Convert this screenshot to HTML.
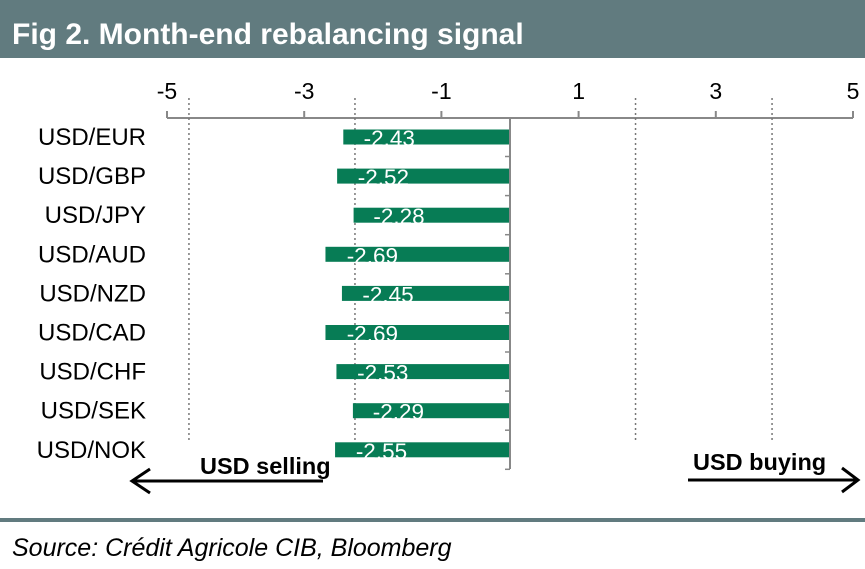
<!DOCTYPE html>
<html><head><meta charset="utf-8"><style>
body{margin:0;width:865px;height:564px;background:#fff;font-family:"Liberation Sans",Arial,sans-serif;overflow:hidden}
</style></head><body>
<svg width="865" height="564" xmlns="http://www.w3.org/2000/svg" id="chart">
<rect x="0" y="0" width="865" height="58" fill="#617b7f"/>
<text x="12" y="44" font-size="30" font-weight="bold" fill="#fff" font-family="Liberation Sans, sans-serif">Fig 2. Month-end rebalancing signal</text>
<rect x="0" y="518" width="865" height="4" fill="#617b7f"/>
<text x="12" y="556" font-size="25" font-style="italic" fill="#000" font-family="Liberation Sans, sans-serif">Source: Crédit Agricole CIB, Bloomberg</text>
<g id="plot"></g>
<text x="200" y="474" font-size="23.5" font-weight="bold" font-family="Liberation Sans, sans-serif">USD selling</text>
<text x="693" y="470" font-size="23.5" font-weight="bold" font-family="Liberation Sans, sans-serif">USD buying</text>
<g stroke="#000" stroke-width="3" fill="none"><line x1="132" y1="481" x2="323" y2="481"/><polyline points="150,469 132,481 150,493"/></g>
<g stroke="#000" stroke-width="3" fill="none"><line x1="688" y1="480" x2="858" y2="480"/><polyline points="842,468 858,480 842,492"/></g>
</svg>
<script>
const categories=["USD/EUR","USD/GBP","USD/JPY","USD/AUD","USD/NZD","USD/CAD","USD/CHF","USD/SEK","USD/NOK"];
const values=[-2.43,-2.52,-2.28,-2.69,-2.45,-2.69,-2.53,-2.29,-2.55];
const tickValues=[-5,-3,-1,1,3,5];
const thresholds=[-4.68,-2.26,1.83,3.82];
const NS="http://www.w3.org/2000/svg";
const g=document.getElementById('plot');
const x=v=>510+v*68.6;
const y=i=>137+i*39.1;
function el(t,a){const e=document.createElementNS(NS,t);for(const k in a)e.setAttribute(k,a[k]);g.appendChild(e);return e;}
let ax=el('line',{x1:x(-5),y1:118,x2:x(5),y2:118,stroke:'#888','stroke-width':2});


tickValues.forEach(v=>{
 let t=el('line',{x1:x(v),y1:111,x2:x(v),y2:118,stroke:'#888','stroke-width':2});
 
 
 let l=el('text',{x:x(v),y:99,'font-size':23,'text-anchor':'middle','font-family':'Liberation Sans, sans-serif'});
 l.textContent=String(v);
 
 
});
thresholds.forEach(v=>{
 let d=el('line',{x1:x(v),y1:98,x2:x(v),y2:440,stroke:'#777','stroke-width':1.5,'stroke-dasharray':'2,3'});
 
 
});
categories.forEach((c,i)=>{
 let v=values[i];
 let b=el('rect',{x:x(v),y:y(i)-7.5,width:x(0)-x(v),height:15,fill:'#077c55'});
 
 
 let vl=el('text',{x:x(v)+(x(0)-x(v))*0.05+12,y:y(i)+9,'font-size':22.5,fill:'#fff','font-family':'Liberation Sans, sans-serif'});
 vl.textContent=v.toFixed(2);
 
 
 let cl=el('text',{x:146,y:y(i)+8,'font-size':24,'text-anchor':'end','font-family':'Liberation Sans, sans-serif'});
 cl.textContent=c;
 
 
 let tk=el('line',{x1:x(0)-5,y1:y(i)+19.5,x2:x(0),y2:y(i)+19.5,stroke:'#888','stroke-width':1.5});
 
 
});
let ya=el('line',{x1:x(0),y1:118,x2:x(0),y2:469,stroke:'#888','stroke-width':2});


</script>
</body></html>
